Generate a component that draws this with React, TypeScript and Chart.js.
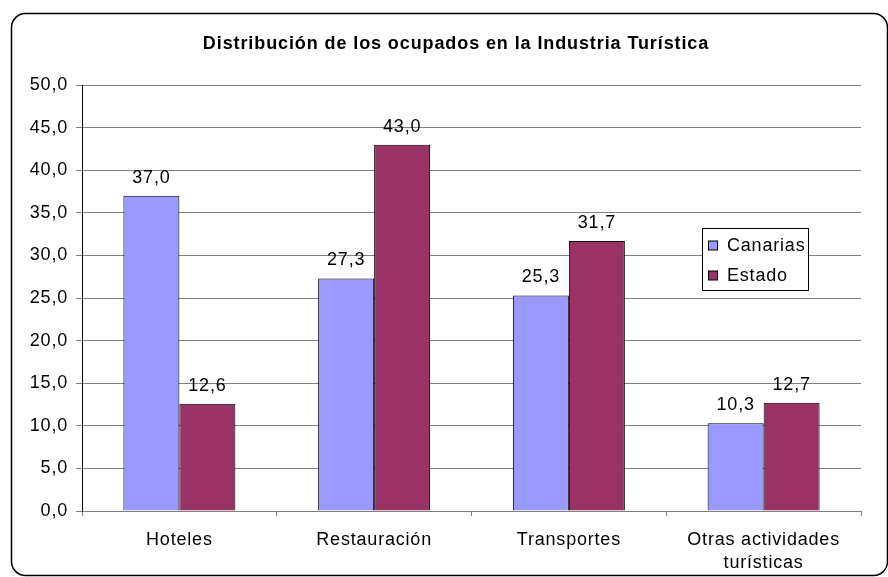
import React, { useEffect, useRef } from "react";
import { Chart, registerables } from "chart.js";

Chart.register(...registerables);

const categories: (string | string[])[] = ["Hoteles", "Restauración", "Transportes", ["Otras actividades", "turísticas"]];
const canarias = [37.0, 27.3, 25.3, 10.3];
const estado = [12.6, 43.0, 31.7, 12.7];
const seriesNames = ["Canarias", "Estado"];
const seriesColors = ["#9999FF", "#993366"];
const title = "Distribución de los ocupados en la Industria Turística";

const FONT = "Arial, 'Liberation Sans', sans-serif";
const SPACING = "0.8px";
const fmt = (v: number) => v.toFixed(1).replace(".", ",");

const framePlugin = {
  id: "frame",
  beforeUpdate(chart: any) {
    (chart.ctx as any).letterSpacing = SPACING;
  },
  beforeDraw(chart: any) {
    const ctx = chart.ctx;
    (ctx as any).letterSpacing = SPACING;
    ctx.save();
    ctx.fillStyle = "#fff";
    ctx.fillRect(0, 0, chart.width, chart.height);
    ctx.beginPath();
    ctx.roundRect(11.5, 13.5, 876, 562, 14);
    ctx.lineWidth = 1.5;
    ctx.strokeStyle = "#000";
    ctx.stroke();
    ctx.restore();
  },
  afterDraw(chart: any) {
    const ctx = chart.ctx;
    ctx.save();
    // title
    ctx.font = `bold 18px ${FONT}`;
    (ctx as any).letterSpacing = "0.9px";
    ctx.fillStyle = "#000";
    ctx.textAlign = "center";
    ctx.textBaseline = "alphabetic";
    ctx.fillText(title, 456, 49);
    (ctx as any).letterSpacing = SPACING;
    // legend
    const lx = 702.5, ly = 228.5, lw = 106, lh = 62;
    ctx.fillStyle = "#fff";
    ctx.fillRect(lx, ly, lw, lh);
    ctx.strokeStyle = "#000";
    ctx.lineWidth = 1;
    ctx.strokeRect(lx, ly, lw, lh);
    ctx.font = `18px ${FONT}`;
    ctx.textAlign = "left";
    ctx.textBaseline = "middle";
    seriesNames.forEach((name, i) => {
      const cy = 245.5 + i * 30;
      ctx.fillStyle = seriesColors[i];
      ctx.fillRect(708.5, cy - 4.5, 9, 9);
      ctx.strokeStyle = "#000";
      ctx.strokeRect(708.5, cy - 4.5, 9, 9);
      ctx.fillStyle = "#000";
      ctx.fillText(name, 727, cy + 1);
    });
    ctx.restore();
  },
  afterDatasetsDraw(chart: any) {
    const ctx = chart.ctx;
    ctx.save();
    ctx.font = `18px ${FONT}`;
    ctx.fillStyle = "#000";
    ctx.textAlign = "center";
    ctx.textBaseline = "alphabetic";
    chart.data.datasets.forEach((ds: any, di: number) => {
      const meta = chart.getDatasetMeta(di);
      meta.data.forEach((el: any, i: number) => {
        ctx.fillText(fmt(ds.data[i]), el.x, el.y - 13);
      });
    });
    ctx.restore();
  },
};

export default function App() {
  const ref = useRef<HTMLCanvasElement>(null);
  useEffect(() => {
    document.body.style.margin = "0";
    const chart = new Chart(ref.current!, {
      type: "bar",
      data: {
        labels: categories,
        datasets: seriesNames.map((name, i) => ({
          label: name,
          data: i === 0 ? canarias : estado,
          backgroundColor: seriesColors[i],
          borderColor: "#000",
          borderWidth: 1,
          categoryPercentage: 0.575,
          barPercentage: 1,
        })),
      },
      options: {
        responsive: false,
        animation: false,
        devicePixelRatio: 1,
        layout: { padding: { top: 85, left: 0, right: 27, bottom: 0 } },
        plugins: {
          legend: { display: false },
          title: { display: false },
          tooltip: { enabled: false },
        },
        scales: {
          x: {
            grid: { drawOnChartArea: false, tickLength: 5, color: "#808080" },
            border: { color: "#808080", width: 1 },
            ticks: { color: "#000", font: { family: FONT, size: 18, lineHeight: 1.3 }, padding: 12, maxRotation: 0, autoSkip: false },
            afterFit(scale: any) { scale.height = 66; },
          },
          y: {
            min: 0,
            max: 50,
            grid: { color: "#808080", tickLength: 6 },
            border: { color: "#000", width: 1 },
            ticks: { stepSize: 5, color: "#000", font: { family: FONT, size: 18 }, padding: 8, callback: (v: any) => fmt(Number(v)) },
            afterFit(scale: any) { scale.width = 82; },
          },
        },
      },
      plugins: [framePlugin],
    });
    return () => chart.destroy();
  }, []);
  return (
    <div style={{ width: 888, height: 577 }}>
      <canvas ref={ref} width={888} height={577} />
    </div>
  );
}
